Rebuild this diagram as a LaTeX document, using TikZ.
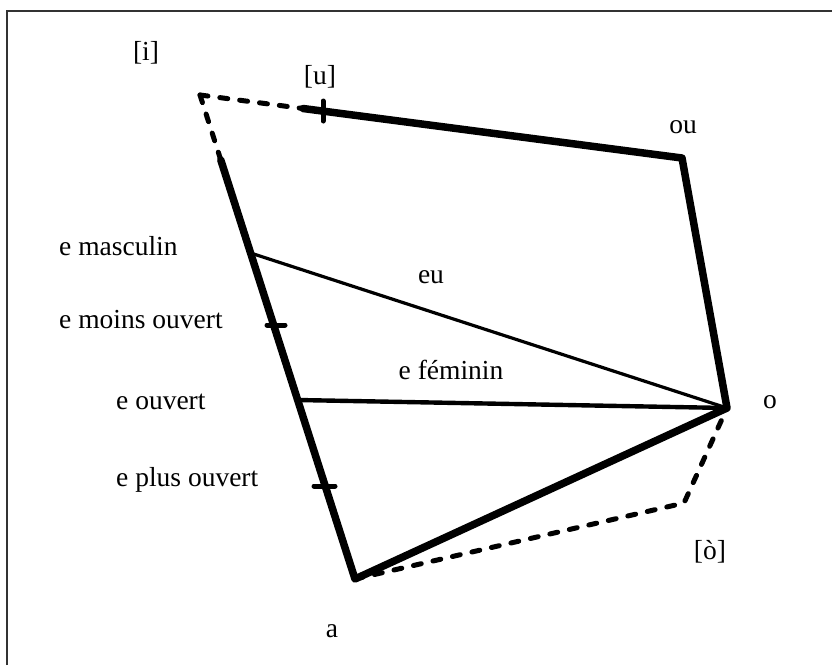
\documentclass[tikz,border=0pt]{standalone}
\usepackage{fontspec}
\setmainfont{Liberation Serif}
\begin{document}
\begin{tikzpicture}[x=1pt,y=-1pt,
  lbl/.style={inner sep=0pt,font=\fontsize{27.5}{32}\selectfont},
  thickline/.style={line width=7.5pt,line cap=round,line join=round},
  dashline/.style={line width=5pt,line cap=round,dash pattern=on 8pt off 12pt},
  tickmark/.style={line width=5pt,line cap=round},
  frameline/.style={line width=1.5pt,black!80}]
\useasboundingbox (0,0) rectangle (832,665);
% frame
\coordinate (f0) at (7,11);
\coordinate (f1) at (832,11);
\coordinate (f2) at (7,665);
\draw[frameline] (f2) -- (f0) -- (f1);
% vertices
\coordinate (i) at (200,95);
\coordinate (us) at (303,108.5);
\coordinate (ou) at (682,158);
\coordinate (o) at (727,408);
\coordinate (a) at (355,579);
\coordinate (is) at (220.8,160);
\coordinate (ocor) at (684,503);
\coordinate (em) at (250.6,253);
\coordinate (eo) at (297.7,400);
% dashed parts
\draw[dashline] (i) -- (is);
\draw[dashline] (i) -- (us);
\draw[dashline] (a) -- (ocor) -- (o);
% thick lines
\draw[thickline] (us) -- (ou) -- (o) -- (a) -- (is);
% inner lines
\draw[line width=3.2pt] (em) -- (o);
\draw[line width=4.4pt] (eo) -- (o);
% ticks
\coordinate (t1a) at (323,101); \coordinate (t1b) at (323,121);
\draw[tickmark] (t1a) -- (t1b);
\coordinate (t2a) at (267,325); \coordinate (t2b) at (285,325);
\draw[tickmark] (t2a) -- (t2b);
\coordinate (t3a) at (314,486); \coordinate (t3b) at (335,486);
\draw[tickmark] (t3a) -- (t3b);
% labels
\node[lbl,anchor=base] (li) at (146,60) {[i]};
\node[lbl,anchor=base] (lu) at (320,84) {[u]};
\node[lbl,anchor=base] (lou) at (683,133) {ou};
\node[lbl,anchor=base west] (lem) at (59,255) {e masculin};
\node[lbl,anchor=base] (leu) at (431,283) {eu};
\node[lbl,anchor=base west] (lemo) at (59,328) {e moins ouvert};
\node[lbl,anchor=base] (lef) at (451,379) {e féminin};
\node[lbl,anchor=base west] (leo) at (116,409) {e ouvert};
\node[lbl,anchor=base] (lo) at (770,408) {o};
\node[lbl,anchor=base west] (lepo) at (116,486) {e plus ouvert};
\node[lbl,anchor=base] (lob) at (710,559) {[ò]};
\node[lbl,anchor=base] (la) at (332,637) {a};
\end{tikzpicture}
\end{document}
